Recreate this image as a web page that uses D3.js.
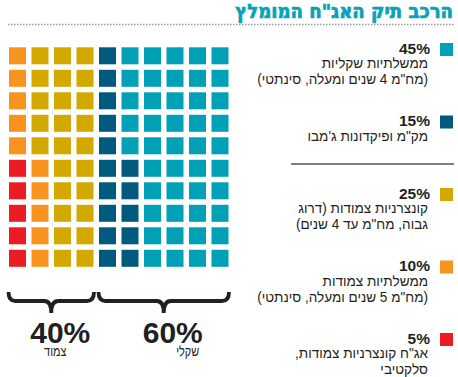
<!DOCTYPE html>
<html lang="he">
<head>
<meta charset="utf-8">
<script src="https://cdn.jsdelivr.net/npm/d3@7"></script>
<style>
  body { margin: 0; background: #fff; }
  svg { display: block; }
  text { font-family: "Liberation Sans", Arial, sans-serif; fill: #231f20; }
</style>
</head>
<body>
<div id="chart"></div>
<script>
// נתונים
const title = "הרכב תיק האג\"ח המומלץ";
const categories = ["ממשלתיות שקליות", "מק\"מ ופיקדונות", "קונצרניות צמודות", "ממשלתיות צמודות", "אג\"ח קונצרניות"];
const shares = [45, 15, 25, 10, 5];
const descLines = [
  ["ממשלתיות שקליות", "(מח\"מ 4 שנים ומעלה, סינתטי)"],
  ["מק\"מ ופיקדונות ג'מבו"],
  ["קונצרניות צמודות (דרוג", "גבוה, מח\"מ עד 4 שנים)"],
  ["ממשלתיות צמודות", "(מח\"מ 5 שנים ומעלה, סינתטי)"],
  ["אג\"ח קונצרניות צמודות,", "סלקטיבי"]
];
const groupOf = ["שקלי", "שקלי", "צמוד", "צמוד", "צמוד"];
const groups = ["צמוד", "שקלי"];
const groupShares = [40, 60];

// מידות
const W = 458, H = 377;
const svg = d3.select("#chart").append("svg")
  .attr("width", W).attr("height", H);

const color = d3.scaleOrdinal()
  .domain(categories)
  .range(["#00a1b6", "#005a7e", "#d3a900", "#f7931e", "#ec1c24"]);

// כותרת
const t = svg.append("text")
  .attr("x", 453).attr("y", 18)
  .attr("direction", "rtl").attr("text-anchor", "start")
  .style("font-family", "'DejaVu Sans Condensed', 'DejaVu Sans', sans-serif")
  .style("font-weight", "bold").style("font-size", "19.5px")
  .style("fill", "#0aa3b6")
  .style("stroke", "#0aa3b6").style("stroke-width", 0.7)
  .text(title);
squeeze(t, 218 / t.node().getComputedTextLength(), 453);

svg.append("line")
  .attr("x1", 8).attr("x2", 454).attr("y1", 24.5).attr("y2", 24.5)
  .attr("stroke", "#9a9a9a").attr("stroke-width", 1.5)
  .attr("stroke-dasharray", "1.5,1.5");

// ריבועים
const cells = [];
shares.forEach((s, i) => d3.range(s).forEach(() => cells.push({ cat: categories[i], group: groupOf[i] })));
cells.forEach((c, k) => { c.col = 9 - Math.floor(k / 10); c.row = k % 10; });

const x = d3.scaleBand().domain(d3.range(10)).range([9, 228.5]).paddingInner(0.244);
const y = d3.scaleBand().domain(d3.range(10)).range([47.3, 266.8]).paddingInner(0.244);

svg.append("g").selectAll("rect")
  .data(cells)
  .join("rect")
  .attr("x", d => x(d.col))
  .attr("y", d => y(d.row))
  .attr("width", x.bandwidth())
  .attr("height", y.bandwidth())
  .attr("fill", d => color(d.cat));

// סוגריים מסולסלים
const bTop = 292, bBar = 301, bTip = 313, r = 7;
const subOffset = { "צמוד": 4, "שקלי": 24 };
groups.forEach((g, i) => {
  const cols = d3.extent(cells.filter(c => c.group === g), c => c.col);
  const x0 = x(cols[0]) - 0.5, x1 = x(cols[1]) + x.bandwidth() + 0.5;
  const xm = (x0 + x1) / 2;
  svg.append("path")
    .attr("d", `M${x0},${bTop} Q${x0},${bBar} ${x0 + r},${bBar} L${xm - r},${bBar} Q${xm},${bBar} ${xm},${bTip}` +
               ` Q${xm},${bBar} ${xm + r},${bBar} L${x1 - r},${bBar} Q${x1},${bBar} ${x1},${bTop}`)
    .attr("fill", "none").attr("stroke", "#231f20").attr("stroke-width", 3.8);
  svg.append("text")
    .attr("x", xm + 9).attr("y", 343)
    .attr("text-anchor", "middle")
    .style("font-weight", "bold").style("font-size", "30px")
    .text(groupShares[i] + "%");
  const st = svg.append("text")
    .attr("x", xm + subOffset[g]).attr("y", 356)
    .attr("text-anchor", "middle").attr("direction", "rtl")
    .style("font-size", "14px")
    .text(g);
  squeeze(st, 0.78, xm + subOffset[g]);
});

// מקרא
const step = 72.5, top0 = 43;
const descs = [];
categories.forEach((c, i) => {
  const ty = top0 + i * step;
  svg.append("rect")
    .attr("x", 440).attr("y", ty).attr("width", 13).attr("height", 13)
    .attr("fill", color(c));
  svg.append("text")
    .attr("x", 430).attr("y", ty + 10.5)
    .attr("text-anchor", "end")
    .style("font-weight", "bold").style("font-size", "15.5px")
    .text(shares[i] + "%");
  descLines[i].forEach((line, j) => {
    descs.push(svg.append("text")
      .attr("x", 428).attr("y", ty + 25.5 + j * 15.8)
      .attr("direction", "rtl").attr("text-anchor", "start")
      .style("font-size", "14px")
      .text(line));
  });
});
const sDesc = 171 / descs[1].node().getComputedTextLength();
descs.forEach(d => squeeze(d, sDesc, 428));

svg.append("line")
  .attr("x1", 291).attr("x2", 454).attr("y1", 164).attr("y2", 164)
  .attr("stroke", "#555").attr("stroke-width", 1.5);

function squeeze(sel, s, ax) {
  sel.attr("transform", `translate(${ax},0) scale(${s},1) translate(${-ax},0)`);
}
</script>
</body>
</html>
